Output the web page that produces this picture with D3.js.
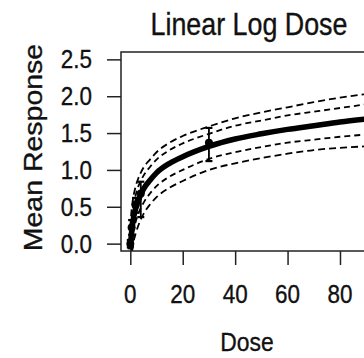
<!DOCTYPE html>
<html><head><meta charset="utf-8">
<script src="https://cdn.jsdelivr.net/npm/d3@7"></script>
<style>html,body{margin:0;padding:0;background:#fff;overflow:hidden}</style>
</head><body>
<svg id="c" width="364" height="358"></svg>
<script>
// ---- data ----
const curveDoses = [0, 0.25, 0.5, 1, 2, 3, 5, 7.5, 10, 15, 20, 30, 40, 50, 60, 70, 80, 90];
const meanCurve  = [-0.08, 0.06, 0.16, 0.30, 0.47, 0.58, 0.74, 0.86, 0.96, 1.09, 1.18, 1.32, 1.42, 1.49, 1.55, 1.60, 1.65, 1.69];
const upperInner = [0.10, 0.24, 0.34, 0.48, 0.65, 0.77, 0.92, 1.04, 1.14, 1.27, 1.36, 1.49, 1.60, 1.67, 1.74, 1.79, 1.84, 1.89];
const lowerInner = [-0.26, -0.12, -0.02, 0.12, 0.29, 0.40, 0.55, 0.68, 0.78, 0.91, 1.00, 1.15, 1.24, 1.31, 1.37, 1.41, 1.45, 1.48];
const upperOuter = [0.22, 0.36, 0.46, 0.60, 0.77, 0.88, 1.03, 1.14, 1.24, 1.37, 1.46, 1.59, 1.70, 1.78, 1.85, 1.92, 1.98, 2.03];
const lowerOuter = [-0.40, -0.26, -0.16, -0.02, 0.13, 0.24, 0.40, 0.53, 0.63, 0.76, 0.85, 1.00, 1.09, 1.16, 1.22, 1.27, 1.30, 1.32];

const pointDoses = [0, 0.5, 2, 4, 30];
const pointMeans = [0.0, 0.22, 0.52, 0.68, 1.37];
const pointLower = [-0.05, 0.12, 0.42, 0.36, 1.12];
const pointUpper = [0.05, 0.32, 0.62, 0.84, 1.57];

const xTicks = [0, 20, 40, 60, 80];
const yTicks = [0.0, 0.5, 1.0, 1.5, 2.0, 2.5];
const titleText = "Linear Log Dose";
const xLabel = "Dose";
const yLabel = "Mean Response";

// ---- layout ----
const L = 121, R = 375.5, T = 52, B = 251;
const x = d3.scaleLinear().domain([-3.55, 93.55]).range([L, R]);
const y = d3.scaleLinear().domain([-0.1, 2.6]).range([B, T]);
const FONT = "'Liberation Sans', Arial, sans-serif";
const SX = 0.88;

const svg = d3.select("#c");
svg.append("defs").append("clipPath").attr("id", "clip")
  .append("rect").attr("x", L).attr("y", T).attr("width", R - L).attr("height", B - T);

const plot = svg.append("g").attr("clip-path", "url(#clip)");
const line = d3.line().x(d => x(d[0])).y(d => y(d[1])).curve(d3.curveMonotoneX);
const mk = arr => curveDoses.map((d, i) => [d, arr[i]]);

[[upperOuter, "7,4"], [lowerOuter, "7,4"], [upperInner, "6,4"], [lowerInner, "6,4"]].forEach(([arr, dash]) => {
  plot.append("path").attr("d", line(mk(arr))).attr("fill", "none")
    .attr("stroke", "#000").attr("stroke-width", 1.8).attr("stroke-dasharray", dash);
});
plot.append("path").attr("d", line(mk(meanCurve))).attr("fill", "none")
  .attr("stroke", "#000").attr("stroke-width", 5.5);

// points with error bars
pointDoses.forEach((d, i) => {
  const px = x(d);
  plot.append("line").attr("x1", px).attr("x2", px).attr("y1", y(pointLower[i])).attr("y2", y(pointUpper[i]))
    .attr("stroke", "#000").attr("stroke-width", 1.8);
  [pointLower[i], pointUpper[i]].forEach(v => {
    plot.append("line").attr("x1", px - 3.5).attr("x2", px + 3.5).attr("y1", y(v)).attr("y2", y(v))
      .attr("stroke", "#000").attr("stroke-width", 2.2);
  });
  plot.append("circle").attr("cx", px).attr("cy", y(pointMeans[i])).attr("r", 4).attr("fill", "#000");
});

// box
svg.append("rect").attr("x", L).attr("y", T).attr("width", R - L).attr("height", B - T)
  .attr("fill", "none").attr("stroke", "#222").attr("stroke-width", 1.5);

// axes
const yAxis = d3.axisLeft(y).tickValues(yTicks).tickFormat(d3.format(".1f")).tickSize(14).tickPadding(0);
const ga = svg.append("g").attr("transform", `translate(${L},0)`).call(yAxis);
ga.select(".domain").remove();
ga.selectAll(".tick line").attr("stroke", "#222").attr("stroke-width", 1.5);
ga.selectAll(".tick text").remove();
const textStyle = sel => sel.attr("font-family", FONT).attr("fill", "#111")
  .attr("stroke", "#111").attr("stroke-width", 0.35);
yTicks.forEach(v => {
  svg.append("text").attr("transform", `translate(92,${y(v) + 9}) scale(${SX},1)`)
    .attr("text-anchor", "end").attr("font-size", 25.5).call(textStyle)
    .text(d3.format(".1f")(v));
});

const xAxis = d3.axisBottom(x).tickValues(xTicks).tickSize(14);
const gx = svg.append("g").attr("transform", `translate(0,${B})`).call(xAxis);
gx.select(".domain").remove();
gx.selectAll(".tick line").attr("stroke", "#222").attr("stroke-width", 1.5);
gx.selectAll(".tick text").remove();
xTicks.forEach(v => {
  svg.append("text").attr("transform", `translate(${x(v)},303) scale(${SX},1)`)
    .attr("text-anchor", "middle").attr("font-size", 25.5).call(textStyle)
    .text(v);
});

// title and labels
svg.append("text").attr("transform", `translate(249,35) scale(${SX},1)`)
  .attr("text-anchor", "middle").attr("font-size", 30.5).call(textStyle)
  .text(titleText);
svg.append("text").attr("transform", `translate(247,351) scale(${SX},1)`)
  .attr("text-anchor", "middle").attr("font-size", 26).call(textStyle)
  .text(xLabel);
svg.append("text").attr("transform", `translate(41.5,${(T + B) / 2 - 4}) rotate(-90) scale(1,${SX})`)
  .attr("text-anchor", "middle").attr("font-size", 28.5).call(textStyle)
  .text(yLabel);
</script>
</body></html>
